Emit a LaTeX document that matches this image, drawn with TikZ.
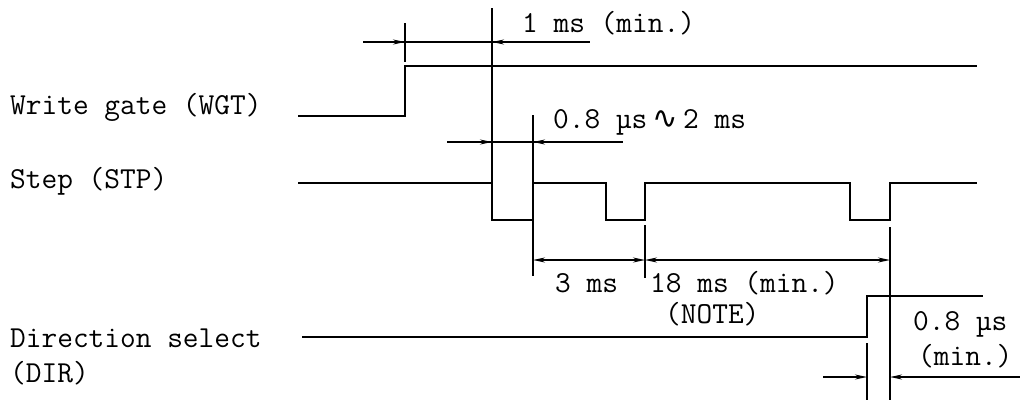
\documentclass[tikz,border=0pt]{standalone}
\usepackage{fontspec}
\newfontfamily\symfont{DejaVu Sans}
\usetikzlibrary{arrows.meta}
% signal levels (y grows downwards)
\def\wgtlo{116}
\def\wgthi{66}
\def\stphi{183}
\def\stplo{220}
\def\dirlo{337}
\def\dirhi{296}
\newcommand\tip[3]{%
    \draw [dimarrow] (#1,#3) -- (#2,#3);
}
\newcommand\timingfont{\ttfamily\addfontfeatures{FakeBold=1.5}\fontsize{30.5}{34}\selectfont}
\tikzset{
  signal/.style={line width=2.4pt},
  dimline/.style={line width=1.6pt},
  dimarrow/.style={dimline, -{Stealth[length=12pt,width=5pt]}},
  dimboth/.style={dimline, {Stealth[length=12pt,width=5pt]}-{Stealth[length=12pt,width=5pt]}},
  lbl/.style={font=\timingfont, inner sep=0pt, anchor=base west},
}
\begin{document}
\begin{tikzpicture}[x=1pt, y=-1pt]

\useasboundingbox (0,0) rectangle (1020,402);

% Signal names
\node [lbl] (wgt)  at (10,114) {Write gate (WGT)};
\node [lbl] (stp)  at (10,188) {Step (STP)};
\node [lbl] (dir)  at (10,347) {Direction select};
\node [lbl] (dirb) at (10,382) {(DIR)};

% Write gate
\draw [signal] (298,\wgtlo) -- (405,\wgtlo) -- (405,\wgthi) -- (977,\wgthi);

% Step
\draw [signal] (298,\stphi) -- (492,\stphi) -- (492,\stplo) -- (533,\stplo)
    -- (533,\stphi) -- (606,\stphi) -- (606,\stplo) -- (645,\stplo)
    -- (645,\stphi) -- (850,\stphi) -- (850,\stplo) -- (890,\stplo)
    -- (890,\stphi) -- (977,\stphi);

% Direction select
\draw [signal] (302,\dirlo) -- (867,\dirlo) -- (867,\dirhi) -- (983,\dirhi);

% Extension lines
\draw [dimline] (405,23) -- (405,62);
\draw [dimline] (492,8) -- (492,\stplo);
\draw [dimline] (533,115) -- (533,\stphi);
\draw [dimline] (533,\stplo) -- (533,276);
\draw [dimline] (645,225) -- (645,278);
\draw [dimline] (890,227) -- (890,400);
\draw [dimline] (867,343) -- (867,400);

% 1 ms (min.)
\draw [dimline] (363,42) -- (590,42);
\tip{370}{405}{42}
\tip{580}{492}{42}
\node [lbl] (tgate) at (522,32) {1 ms (min.)};

% 0.8 us - 2 ms
\draw [dimline] (447,142) -- (623,142);
\tip{455}{492}{142}
\tip{610}{533}{142}
\node [lbl] (tpulse) at (553,128) {0.8 µs{\symfont\,∿\,}2 ms};

% 3 ms, 18 ms (min.)
\draw [dimboth] (533,260) -- (645,260);
\draw [dimboth] (645,260) -- (890,260);
\node [lbl] (tstep)   at (555,292) {3 ms};
\node [lbl] (tsettle) at (650,292) {18 ms (min.)};
\node [lbl] (tnote)   at (665,323) {(NOTE)};

% 0.8 us (min.)
\tip{823}{867}{377}
\draw [dimarrow] (1020,377) -- (890,377);
\node [lbl] (tdir)    at (913,330) {0.8 µs};
\node [lbl] (tdirmin) at (918,365) {(min.)};

\end{tikzpicture}
\end{document}
